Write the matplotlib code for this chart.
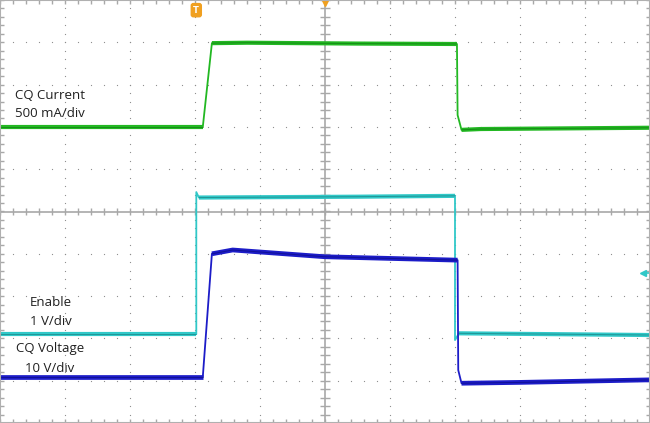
import numpy as np
import matplotlib.pyplot as plt

# trace breakpoints, in divisions (x: -5..5, y: -5..5)
cur_t = [-5, -1.88, -1.74, -1.2, 0.5, 2.03, 2.04, 2.10, 2.4, 5]
cur_v = [2.0, 2.0, 3.98, 3.99, 3.97, 3.96, 2.28, 1.93, 1.95, 1.98]

en_t = [-5, -1.98, -1.98, -1.94, 0.5, 2.0, 2.0, 2.06, 5]
en_v = [-2.9, -2.9, 0.46, 0.33, 0.35, 0.37, -3.04, -2.88, -2.92]

vq_t = [-5, -1.88, -1.74, -1.42, 0.0, 2.04, 2.05, 2.10, 3.0, 5]
vq_v = [-3.91, -3.91, -1.0, -0.91, -1.07, -1.15, -3.75, -4.06, -4.04, -3.98]

labels = [("CQ Current", -4.23, 2.75), ("500 mA/div", -4.23, 2.32),
          ("Enable", -4.22, -2.15), ("1 V/div", -4.22, -2.6),
          ("CQ Voltage", -4.23, -3.25), ("10 V/div", -4.23, -3.7)]

fig = plt.figure(figsize=(6.5, 4.23), dpi=100)
ax = fig.add_axes([0, 0, 1, 1])
ax.set_xlim(-5, 5)
ax.set_ylim(-5, 5)

# dotted graticule
minor = np.arange(-5, 5.001, 0.2)
for k in range(-4, 5):
    if k == 0:
        continue
    ax.scatter(np.full(minor.size, k), minor, s=0.8, color='#8c8c8c', lw=0)
    ax.scatter(minor, np.full(minor.size, k), s=0.8, color='#8c8c8c', lw=0)

# centre cross with ticks
ax.axhline(0, color='#a8a8a8', lw=1.2)
ax.axvline(0, color='#a8a8a8', lw=1.2)
ax.vlines(minor, -0.09, 0.09, color='#a8a8a8', lw=1)
ax.hlines(minor, -0.07, 0.07, color='#a8a8a8', lw=1)

# frame ticks
ax.set_xticks(minor)
ax.set_yticks(minor)
ax.tick_params(direction='in', length=3, color='#a8a8a8', width=1,
               top=True, right=True, labelbottom=False, labelleft=False)
for s in ax.spines.values():
    s.set_color('#b0b0b0')
    s.set_linewidth(1.5)


def trace(t, v, flats, col, dark, lw):
    # thin line for the edges, noisy-looking band on the flat parts
    ax.plot(t, v, color=col, lw=1.3)
    for a, b in flats:
        ax.plot(t[a:b + 1], v[a:b + 1], color=col, lw=lw,
                solid_capstyle='butt')
        ax.plot(t[a:b + 1], v[a:b + 1], color=dark, lw=0.7, alpha=0.7,
                solid_capstyle='butt')


trace(cur_t, cur_v, [(0, 1), (2, 5), (7, 9)], '#22b822', '#137a13', 3.0)
trace(en_t, en_v, [(0, 1), (3, 5), (7, 8)], '#30c8c8', '#1a8080', 3.0)
trace(vq_t, vq_v, [(0, 1), (2, 5), (7, 9)], '#1c1cc8', '#0c0c80', 3.4)

for txt, x, y in labels:
    ax.text(x, y, txt, ha='center', va='center', fontsize=9.5,
            family=['Open Sans', 'DejaVu Sans'], color='#202020')

# trigger markers
ax.text(-1.98, 4.76, "T", ha='center', va='center', fontsize=6, color='white',
        fontweight='bold',
        bbox=dict(boxstyle='round,pad=0.25', fc='#f0a020', ec='#f0a020'))
ax.plot([0], [4.98], marker='v', ms=7, color='#f0a020', clip_on=True)
ax.plot([4.9], [-1.45], marker='<', ms=5, color='#30c8c8')
ax.plot([4.9, 4.99], [-1.45, -1.45], color='#30c8c8', lw=1.2)

fig.savefig("out.png", dpi=100)
